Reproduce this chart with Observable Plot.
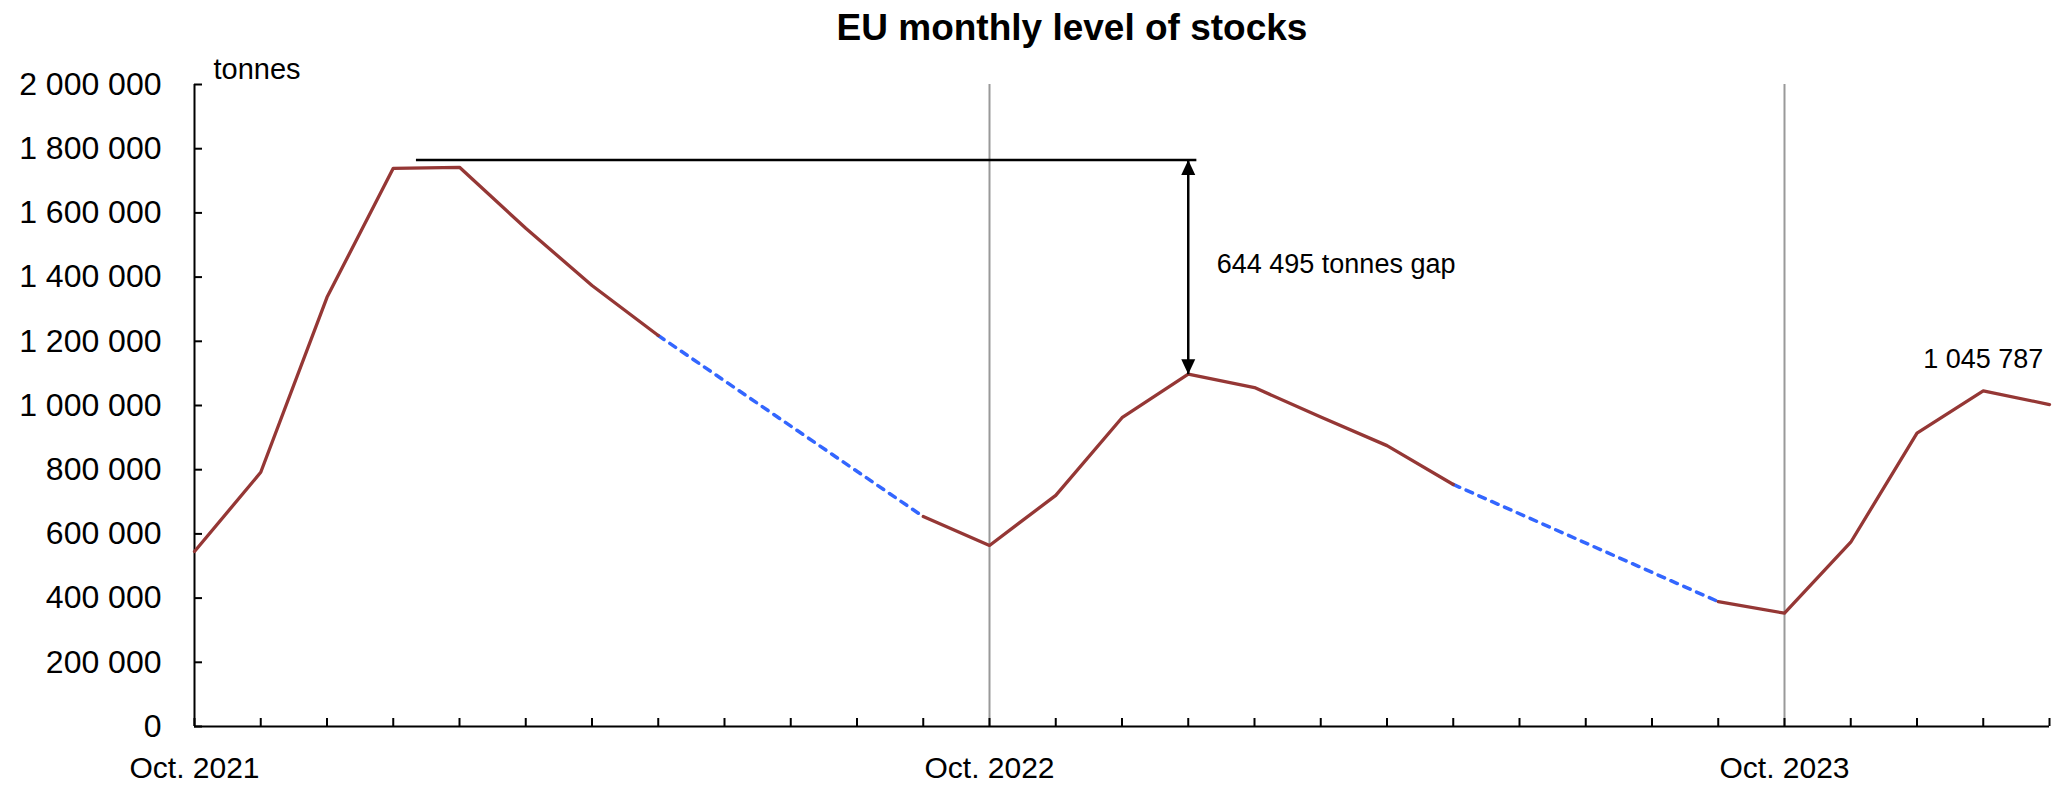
<!DOCTYPE html>
<html><head><meta charset="utf-8">
<script src="https://cdn.jsdelivr.net/npm/d3@7"></script>
<script src="https://cdn.jsdelivr.net/npm/@observablehq/plot@0.6"></script>
<style>
html,body{margin:0;padding:0;background:#fff;}
#title{position:relative;height:60px;font-family:"Liberation Sans",Arial,sans-serif;}
#title span{position:absolute;left:1072px;top:9px;transform:translateX(-50%);font-weight:bold;font-size:37px;line-height:1;white-space:nowrap;color:#000;}
</style></head><body>
<div id="title"><span>EU monthly level of stocks</span></div>
<div id="chart"></div>
<script>
// ---- data ----
const months = ["Oct. 2021","Nov. 2021","Dec. 2021","Jan. 2022","Feb. 2022","Mar. 2022","Apr. 2022","May 2022","Jun. 2022","Jul. 2022","Aug. 2022","Sep. 2022",
  "Oct. 2022","Nov. 2022","Dec. 2022","Jan. 2023","Feb. 2023","Mar. 2023","Apr. 2023","May 2023","Jun. 2023","Jul. 2023","Aug. 2023","Sep. 2023",
  "Oct. 2023","Nov. 2023","Dec. 2023","Jan. 2024","Feb. 2024"];
// monthly stocks in tonnes (null = month not reported; bridged with a dashed line)
const stocks = [545000, 792000, 1337000, 1739000, 1742000, 1552000, 1374000, 1218000, null, null, null, 654000,
  564000, 720000, 962000, 1097500, 1056000, 964000, 875000, 754000, null, null, null, 389000,
  353000, 574000, 914000, 1045787, 1003000];
const yTicks = [0, 200000, 400000, 600000, 800000, 1000000, 1200000, 1400000, 1600000, 1800000, 2000000];
const xTickLabels = ["Oct. 2021", "Oct. 2022", "Oct. 2023"];
const yUnit = "tonnes";
// annotation: gap between peak stock level and Jan. 2023
const gapLevel = 1765000;
const gapLineFrom = 3.35, gapLineTo = 15.13;
const gapArrowMonth = "Jan. 2023";
const gapText = "644 495 tonnes gap";
const gapTextX = 15.43, gapTextY = 1439000;
const lastLabelMonth = "Jan. 2024";
const lastLabelText = "1 045 787";

// ---- derived ----
const data = months.map((m, i) => ({i, m, v: stocks[i]}));
const dashed = [];
for (let i = 1, g = 0; i < stocks.length; i++) {
  if (stocks[i] == null && stocks[i - 1] != null) {
    let j = i; while (stocks[j] == null) j++;
    dashed.push({i: i - 1, v: stocks[i - 1], g}, {i: j, v: stocks[j], g});
    g++;
  }
}
const xLabelIdx = xTickLabels.map(l => months.indexOf(l));
const arrowIdx = months.indexOf(gapArrowMonth);
const lastIdx = months.indexOf(lastLabelMonth);
const fmt = d3.formatLocale({decimal: ",", thousands: " ", grouping: [3], currency: ["", ""]}).format(",d");

function filledArrow(color) {
  const m = d3.create("svg:marker")
    .attr("viewBox", "-16 -8 17 16")
    .attr("markerWidth", 17).attr("markerHeight", 16)
    .attr("markerUnits", "userSpaceOnUse")
    .attr("refX", 0).attr("refY", 0)
    .attr("orient", "auto-start-reverse")
    .attr("fill", color).attr("stroke", "none");
  m.append("path").attr("d", "M0,0L-15,-7L-15,7Z");
  return m.node();
}

const chart = Plot.plot({
  width: 2052, height: 728,
  marginLeft: 194, marginRight: 3, marginTop: 24, marginBottom: 62,
  style: {fontFamily: "'Liberation Sans', Arial, sans-serif", fontSize: "30px", color: "#000", background: "#fff", overflow: "visible"},
  x: {type: "linear", domain: [0, months.length - 1]},
  y: {domain: [0, 2000000]},
  marks: [
    Plot.ruleX(xLabelIdx.slice(1), {y1: 0, y2: 2000000, stroke: "#999", strokeWidth: 2}),
    Plot.ruleX([0], {stroke: "#000", strokeWidth: 2}),
    Plot.ruleY([0], {stroke: "#000", strokeWidth: 2}),
    Plot.axisY({ticks: yTicks, tickSize: -8, tickFormat: () => "", strokeWidth: 2, label: null}),
    Plot.axisY({ticks: yTicks, tickSize: 0, tickPadding: 33, tickFormat: fmt, label: null, fontSize: 32}),
    Plot.axisX({ticks: d3.range(months.length), tickSize: -8, tickFormat: () => "", strokeWidth: 2, label: null}),
    Plot.axisX({ticks: xLabelIdx, tickSize: 0, tickPadding: 30, tickFormat: i => months[i], label: null}),
    Plot.text([yUnit], {frameAnchor: "top-left", textAnchor: "start", lineAnchor: "middle", dx: 19, dy: -14.5, fontSize: 29}),
    Plot.line(dashed, {x: "i", y: "v", z: "g", stroke: "#3366ff", strokeWidth: 3.5, strokeDasharray: "7,7", strokeLinecap: "round"}),
    Plot.line(data, {x: "i", y: "v", stroke: "#953735", strokeWidth: 3.3}),
    Plot.ruleY([gapLevel], {x1: gapLineFrom, x2: gapLineTo, stroke: "#000", strokeWidth: 2.5}),
    Plot.link([{x: arrowIdx, y1: gapLevel, y2: stocks[arrowIdx]}], {x1: "x", x2: "x", y1: "y1", y2: "y2", stroke: "#000", strokeWidth: 2.5, markerStart: filledArrow, markerEnd: filledArrow}),
    Plot.text([gapText], {x: gapTextX, y: gapTextY, textAnchor: "start", lineAnchor: "middle", fontSize: 27}),
    Plot.text([lastLabelText], {x: lastIdx, y: stocks[lastIdx], dy: -31, textAnchor: "middle", lineAnchor: "middle", fontSize: 27})
  ]
});
document.getElementById("chart").appendChild(chart);
</script>
</body></html>
